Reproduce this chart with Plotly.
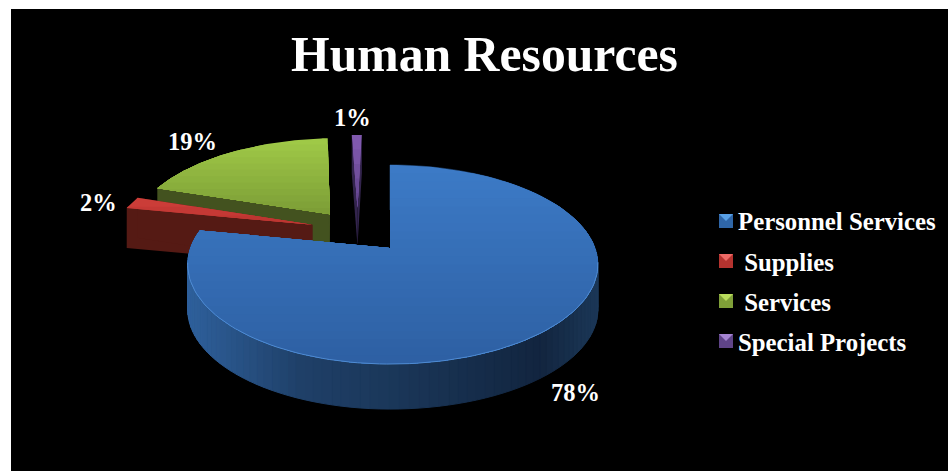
import math
import plotly.graph_objects as go

# ---- data ----
categories = ["Personnel Services", "Supplies", "Services", "Special Projects"]
legend_labels = ["Personnel Services", "\u00a0Supplies", "\u00a0Services", "Special Projects"]
values = [78, 2, 19, 1]
percent_labels = ["78%", "2%", "19%", "1%"]

# ---- style ----
FONT = "Liberation Serif"
top_from = ["#3c7ac6", "#cb3d38", "#9fc947", "#8059ae"]
top_to = ["#2d5fa2", "#b8322e", "#7a9a35", "#5c3f86"]
wall_col = ["#1b3a60", "#551a14", "#43521f", "#33244d"]
swatch_base = ["#2f66a8", "#b5332f", "#7f9f38", "#5f4488"]
swatch_top = ["#58a0e6", "#ee6a66", "#b9dc5c", "#a584d2"]
explode = [(0.0, 0.0), (-0.405, -0.25), (-0.32, -0.37), (-0.175, -0.448)]
radius = [1.0, 1.03, 1.03, 1.0]
depth = [45.0, 40.0, 40.0, 38.0]
label_pos = [(575, 392), (98, 202), (192, 141), (352, 117)]

CX, CY, A, B_LEFT, B_RIGHT, K = 390.0, 248.0, 96.8, 199.5, 205.0, 0.166


def project(u, v):
    d = 1 - K * v
    return CX + (B_RIGHT if u > 0 else B_LEFT) * u / d, CY + A * v / d


def mix(c1, c2, t):
    a = [int(c1[i:i + 2], 16) for i in (1, 3, 5)]
    b = [int(c2[i:i + 2], 16) for i in (1, 3, 5)]
    return "#%02x%02x%02x" % tuple(round(a[i] + (b[i] - a[i]) * t) for i in range(3))


def clip_below(poly, yc):
    out = []
    n = len(poly)
    for i in range(n):
        p, q = poly[i], poly[(i + 1) % n]
        pin, qin = p[1] >= yc, q[1] >= yc
        if pin:
            out.append(p)
        if pin != qin:
            t = (yc - p[1]) / (q[1] - p[1])
            out.append((p[0] + (q[0] - p[0]) * t, yc))
    return out


def poly_trace(poly, color, lw=0.0):
    xs = [p[0] for p in poly] + [poly[0][0]]
    ys = [p[1] for p in poly] + [poly[0][1]]
    return go.Scatter(x=xs, y=ys, mode="lines", fill="toself", fillcolor=color,
                      line=dict(color=color, width=lw), hoverinfo="skip", showlegend=False)


fig = go.Figure()

# Slice angles follow from the values, clockwise from 12 o'clock
total = sum(values)
spans = []
acc = 0.0
for val in values:
    spans.append((acc, acc + val / total * 2 * math.pi))
    acc += val / total * 2 * math.pi


def slice_outline(i, steps=120):
    a0, a1 = spans[i]
    ox, oy = explode[i]
    r = radius[i]
    pts = [project(ox, oy)]
    for s in range(steps + 1):
        a = a0 + (a1 - a0) * s / steps
        pts.append(project(ox + r * math.sin(a), oy - r * math.cos(a)))
    return pts


def draw_slice(i, bands):
    pts = slice_outline(i)
    apex = pts[0]
    H = depth[i]
    # radial walls
    for p in (pts[1], pts[-1]):
        wall = [apex, p, (p[0], p[1] + H), (apex[0], apex[1] + H)]
        fig.add_trace(poly_trace(wall, wall_col[i] if i else "#0f2038"))
    # outer arc wall, shaded along the rim (only the big slice shows it)
    rim = pts[1:]
    if i == 0:
        stops = [(186, "#2f619d"), (300, "#1f4068"), (400, "#1a3658"), (540, "#12253f"), (598, "#1c3858")]
        for j in range(len(rim) - 1):
            p, q = rim[j], rim[j + 1]
            xm = (p[0] + q[0]) / 2
            col = stops[-1][1]
            for (x0, c0), (x1, c1) in zip(stops, stops[1:]):
                if x0 <= xm <= x1:
                    col = mix(c0, c1, (xm - x0) / (x1 - x0))
                    break
            fig.add_trace(poly_trace([p, q, (q[0], q[1] + H), (p[0], p[1] + H)], col, 1))
    # top face with a vertical gradient
    ymin = min(p[1] for p in pts)
    ymax = max(p[1] for p in pts)
    for b in range(bands):
        t = b / bands
        yc = ymin + (ymax - ymin) * t
        poly = clip_below(pts, yc)
        if len(poly) >= 3:
            fig.add_trace(poly_trace(poly, mix(top_from[i], top_to[i], t)))


for idx, n_bands in [(3, 5), (2, 12), (1, 3), (0, 24)]:
    draw_slice(idx, n_bands)

# light rim on the front edge of the big slice
a0, a1 = spans[0]
rim_pts = [project(math.sin(a0 + (a1 - a0) * s / 160), -math.cos(a0 + (a1 - a0) * s / 160))
           for s in range(161)]
front = [p for p in rim_pts if p[1] > 262]
fig.add_trace(go.Scatter(x=[p[0] for p in front], y=[p[1] for p in front], mode="lines",
                         line=dict(color="#4f8bd2", width=1), hoverinfo="skip", showlegend=False))

# legend entries (the bevelled swatches are drawn next to them)
for i, name in enumerate(legend_labels):
    fig.add_trace(go.Scatter(x=[None], y=[None], mode="markers", name=name, legendgroup=categories[i],
                             marker=dict(symbol="square", size=1, color="rgba(0,0,0,0)",
                                         line=dict(width=0))))

# percentage labels
annotations = [dict(x=x, y=y, text=t, showarrow=False, xanchor="center", yanchor="middle",
                    font=dict(family=FONT, size=24.5, color="white", weight="bold"))
               for t, (x, y) in zip(percent_labels, label_pos)]

# bevelled legend swatches
shapes = []
for i in range(4):
    y0 = 214 + 40 * i
    x0, x1, y1 = 719, 733, y0 + 14
    shapes.append(dict(type="rect", xref="x", yref="y", x0=x0, x1=x1, y0=y0, y1=y1,
                       fillcolor=swatch_base[i], line=dict(width=0), layer="above"))
    shapes.append(dict(type="path", xref="x", yref="y", layer="above", line=dict(width=0),
                       path=f"M{x0},{y0} L{x1},{y0} L{(x0 + x1) / 2},{y0 + 7} Z",
                       fillcolor=swatch_top[i]))

fig.update_layout(
    width=948, height=471,
    margin=dict(l=11, r=0, t=9, b=0),
    paper_bgcolor="white", plot_bgcolor="black",
    xaxis=dict(range=[11, 948], visible=False, fixedrange=True),
    yaxis=dict(range=[471, 9], visible=False, fixedrange=True),
    title=dict(text="<b>Human Resources</b>", x=484.5 / 948, xanchor="center", y=1 - 54 / 471, yanchor="middle",
               font=dict(family=FONT, size=49.7, color="white")),
    showlegend=True,
    legend=dict(x=(698 - 11) / 937, xanchor="left", y=1 - (198 - 9) / 462, yanchor="top",
                bgcolor="rgba(0,0,0,0)", traceorder="grouped", tracegroupgap=5,
                font=dict(family=FONT, size=24.8, color="white", weight="bold"), itemclick=False, itemdoubleclick=False),
    annotations=annotations, shapes=shapes,
)

fig.write_html("out.html", config=dict(displayModeBar=False),
               post_script="document.body.style.margin='0';document.body.style.overflow='hidden';")
